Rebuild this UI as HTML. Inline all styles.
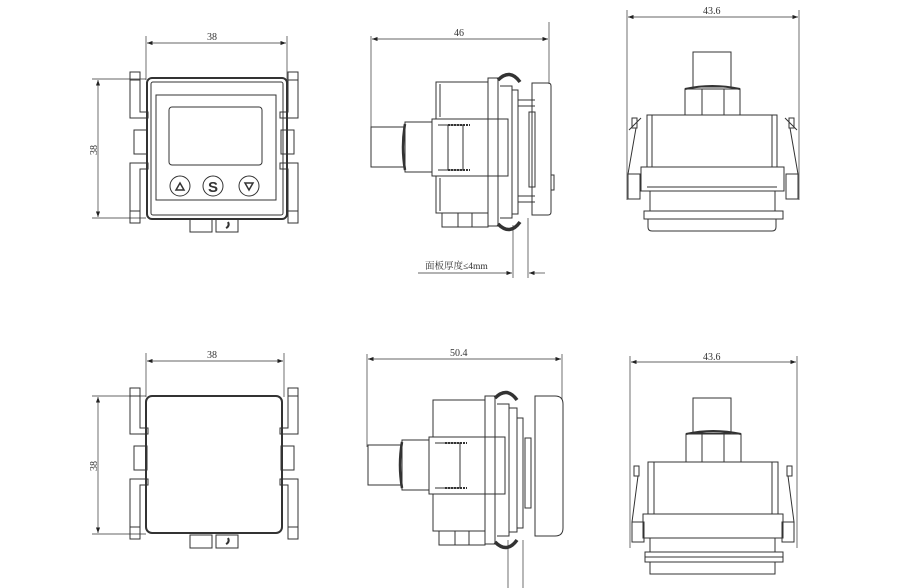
<!DOCTYPE html>
<html><head><meta charset="utf-8"><style>
html,body{margin:0;padding:0;background:#fff;}
svg{display:block}
text{font-family:"Liberation Serif","Noto Serif CJK SC",serif;font-size:10px;fill:#333}
</style></head><body>
<svg width="900" height="588" viewBox="0 0 900 588" xmlns="http://www.w3.org/2000/svg">
<defs>
<marker id="a" markerWidth="8" markerHeight="6" refX="8" refY="3" orient="auto-start-reverse"><path d="M0,0 L8,3 L0,6z" fill="#222"/></marker>
<g id="clipL">
  <path d="M140,72 h-10 v46 h18 v-6 h-8 z"/>
  <line x1="130" y1="80" x2="140" y2="80"/>
  <rect x="134" y="130" width="13" height="24"/>
  <path d="M130,163 h18 v6 h-8 v54 h-10 z"/>
  <line x1="130" y1="211" x2="140" y2="211"/>
</g>
<g id="front">
  <use href="#clipL"/>
  <use href="#clipL" transform="translate(428,0) scale(-1,1)"/>
  <rect x="190" y="219" width="22" height="13"/>
  <rect x="216" y="219" width="22" height="13"/>
  <path d="M228,222 q2,4 -2,6" stroke-width="2"/>
</g>
<g id="sideCore">
  <rect x="371" y="127" width="34" height="40"/>
  <path d="M405,122 h27 v50 h-27 z"/>
  <path d="M405,124 q-4,23 0,46" stroke-width="2.5"/>
  <rect x="436" y="82" width="52" height="37"/>
  <rect x="436" y="176" width="52" height="37"/>
  <line x1="440" y1="84" x2="440" y2="117"/><line x1="440" y1="178" x2="440" y2="211"/>
  <rect x="432" y="119" width="76" height="57"/>
  <path d="M438,125 h25 v45 h-25"/>
  <line x1="448" y1="125" x2="448" y2="170"/>
  <line x1="448" y1="125" x2="470" y2="125" stroke-width="2" stroke-dasharray="2,1"/>
  <line x1="448" y1="170" x2="470" y2="170" stroke-width="2" stroke-dasharray="2,1"/>
  <path d="M488,78 h10 v148 h-10 z"/>
  <path d="M498,80 q12,-12 22,2 M498,224 q12,12 22,-2" stroke-width="3.5"/>
  <path d="M500,86 h12 v132 h-12"/>
  <rect x="512" y="90" width="6" height="124"/>
  <line x1="518" y1="100" x2="535" y2="100"/><line x1="518" y1="106" x2="535" y2="106"/>
  <line x1="518" y1="196" x2="535" y2="196"/><line x1="518" y1="202" x2="535" y2="202"/>
  <rect x="529" y="112" width="6" height="75"/>
  <path d="M532,83 h16 q3,0 3,3 v126 q0,3 -3,3 h-16 z"/>
  <rect x="551" y="175" width="3" height="15"/>
  <path d="M442,213 h46 v14 h-46 z M458,213 v14 M472,213 v14"/>
</g>
<g id="back">
  <rect x="693" y="52" width="38" height="35"/>
  <path d="M685,89 h55 v26 h-55 z M702,89 v26 M724,89 v26"/>
  <path d="M685,89 q27,-6 55,0" stroke-width="2"/>
  <rect x="647" y="115" width="130" height="52"/>
  <line x1="652" y1="115" x2="652" y2="167"/><line x1="772" y1="115" x2="772" y2="167"/>
  <path d="M641,167 h143 v24 h-143 z"/>
  <line x1="647" y1="187" x2="777" y2="187"/>
  <path d="M650,191 h125 v20 h-125 z"/>
  <rect x="644" y="211" width="139" height="8"/>
  <path d="M648,219 v8 q0,4 4,4 h120 q4,0 4,-4 v-8"/>
  <path d="M632,118 h5 v10 h-5 z M629,130 l12,-12 M636,128 l-8,46 h12 v25 h-12 v-25"/>
  <path d="M794,118 h-5 v10 h5 z M797,130 l-12,-12 M790,128 l8,46 h-12 v25 h12 v-25"/>
</g>
</defs>

<g fill="none" stroke="#333" stroke-width="1">
<!-- View 1 -->
<line x1="146" y1="36" x2="146" y2="80" stroke-width="0.7"/><line x1="287" y1="36" x2="287" y2="80" stroke-width="0.7"/>
<line x1="147" y1="43" x2="286" y2="43" stroke-width="0.7" marker-start="url(#a)" marker-end="url(#a)"/>
<line x1="92" y1="79" x2="146" y2="79" stroke-width="0.7"/><line x1="92" y1="218" x2="146" y2="218" stroke-width="0.7"/>
<line x1="98" y1="80" x2="98" y2="217" stroke-width="0.7" marker-start="url(#a)" marker-end="url(#a)"/>
<use href="#front"/>
<rect x="147" y="78" width="140" height="141" rx="5" stroke-width="2"/>
<rect x="151" y="82" width="132" height="133" rx="2"/>
<rect x="156" y="95" width="120" height="105"/>
<rect x="169" y="107" width="93" height="58" rx="3"/>
<circle cx="180" cy="186" r="10"/><circle cx="213" cy="186" r="10"/><circle cx="249" cy="186" r="10"/>
<path d="M176,190 l4,-7 l4,7 z M245,183 l4,7 l4,-7 z" stroke-width="1.5"/>

<!-- View 2 -->
<line x1="371" y1="36" x2="371" y2="128" stroke-width="0.7"/><line x1="549" y1="22" x2="549" y2="84" stroke-width="0.7"/>
<line x1="372" y1="39" x2="548" y2="39" stroke-width="0.7" marker-start="url(#a)" marker-end="url(#a)"/>
<use href="#sideCore"/>
<line x1="513" y1="225" x2="513" y2="278" stroke-width="0.7"/><line x1="528" y1="218" x2="528" y2="278" stroke-width="0.7"/>
<line x1="418" y1="273" x2="512" y2="273" stroke-width="0.7" marker-end="url(#a)"/>
<line x1="545" y1="273" x2="529" y2="273" stroke-width="0.7" marker-end="url(#a)"/>

<!-- View 3 -->
<line x1="627" y1="10" x2="627" y2="200" stroke-width="0.7"/><line x1="799" y1="10" x2="799" y2="200" stroke-width="0.7"/>
<line x1="628" y1="17" x2="798" y2="17" stroke-width="0.7" marker-start="url(#a)" marker-end="url(#a)"/>
<use href="#back"/>

<!-- View 4 -->
<line x1="146" y1="353" x2="146" y2="397" stroke-width="0.7"/><line x1="284" y1="353" x2="284" y2="397" stroke-width="0.7"/>
<line x1="147" y1="361" x2="283" y2="361" stroke-width="0.7" marker-start="url(#a)" marker-end="url(#a)"/>
<line x1="92" y1="396" x2="146" y2="396" stroke-width="0.7"/><line x1="92" y1="534" x2="146" y2="534" stroke-width="0.7"/>
<line x1="98" y1="397" x2="98" y2="533" stroke-width="0.7" marker-start="url(#a)" marker-end="url(#a)"/>
<use href="#front" transform="translate(0,316)"/>
<rect x="146" y="396" width="136" height="137" rx="6" stroke-width="2"/>

<!-- View 5 -->
<line x1="367" y1="354" x2="367" y2="447" stroke-width="0.7"/><line x1="562" y1="354" x2="562" y2="400" stroke-width="0.7"/>
<line x1="368" y1="359" x2="561" y2="359" stroke-width="0.7" marker-start="url(#a)" marker-end="url(#a)"/>
<g transform="translate(-3,318)">
  <rect x="371" y="127" width="34" height="40"/>
  <path d="M405,122 h27 v50 h-27 z"/>
  <path d="M405,124 q-4,23 0,46" stroke-width="2.5"/>
  <rect x="436" y="82" width="52" height="37"/>
  <rect x="436" y="176" width="52" height="37"/>
  <rect x="432" y="119" width="76" height="57"/>
  <path d="M438,125 h25 v45 h-25"/>
  <line x1="448" y1="125" x2="470" y2="125" stroke-width="2" stroke-dasharray="2,1"/>
  <line x1="448" y1="170" x2="470" y2="170" stroke-width="2" stroke-dasharray="2,1"/>
  <path d="M488,78 h10 v148 h-10 z"/>
  <path d="M498,80 q12,-12 22,2 M498,224 q12,12 22,-2" stroke-width="3.5"/>
  <path d="M500,86 h12 v132 h-12"/>
  <rect x="512" y="90" width="8" height="124"/>
  <rect x="520" y="100" width="6" height="110"/>
  <rect x="528" y="120" width="6" height="70"/>
  <path d="M538,78 h20 q8,0 8,8 v124 q0,8 -8,8 h-20 z"/>
  <path d="M442,213 h46 v14 h-46 z M458,213 v14 M472,213 v14"/>
</g>
<line x1="508" y1="540" x2="508" y2="588" stroke-width="0.7"/><line x1="523" y1="540" x2="523" y2="588" stroke-width="0.7"/>

<!-- View 6 -->
<line x1="630" y1="356" x2="630" y2="548" stroke-width="0.7"/><line x1="797" y1="356" x2="797" y2="548" stroke-width="0.7"/>
<line x1="631" y1="362" x2="796" y2="362" stroke-width="0.7" marker-start="url(#a)" marker-end="url(#a)"/>
<g transform="translate(0,346)">
  <rect x="693" y="52" width="38" height="35"/>
  <path d="M686,88 h55 v28 h-55 z M702,88 v28 M724,88 v28"/>
  <path d="M686,88 q27,-6 55,0" stroke-width="2"/>
  <rect x="648" y="116" width="130" height="52"/>
  <line x1="654" y1="116" x2="654" y2="168"/><line x1="772" y1="116" x2="772" y2="168"/>
  <path d="M643,168 h140 v24 h-140 z"/>
  <path d="M650,192 h125 v14 h-125 z"/>
  <rect x="645" y="206" width="138" height="10"/>
  <line x1="645" y1="211" x2="783" y2="211"/>
  <path d="M650,216 v12 h125 v-12"/>
  <path d="M634,120 h5 v10 h-5 z M638,130 l-6,46 h12 v20 h-12 v-20"/>
  <path d="M792,120 h-5 v10 h5 z M788,130 l6,46 h-12 v20 h12 v-20"/>
</g>
</g>

<text x="213" y="192" text-anchor="middle" style="font-family:'Liberation Sans',sans-serif;font-size:15px;font-weight:bold;fill:#333">S</text>
<text x="207" y="40">38</text>
<text x="94" y="153" transform="rotate(-90 94 150)" text-anchor="middle">38</text>
<text x="454" y="36">46</text>
<text x="425" y="269" style="font-size:9.5px">面板厚度≤4mm</text>
<text x="703" y="14">43.6</text>
<text x="207" y="358">38</text>
<text x="94" y="469" transform="rotate(-90 94 466)" text-anchor="middle">38</text>
<text x="450" y="356">50.4</text>
<text x="703" y="360">43.6</text>
</svg>
</body></html>
